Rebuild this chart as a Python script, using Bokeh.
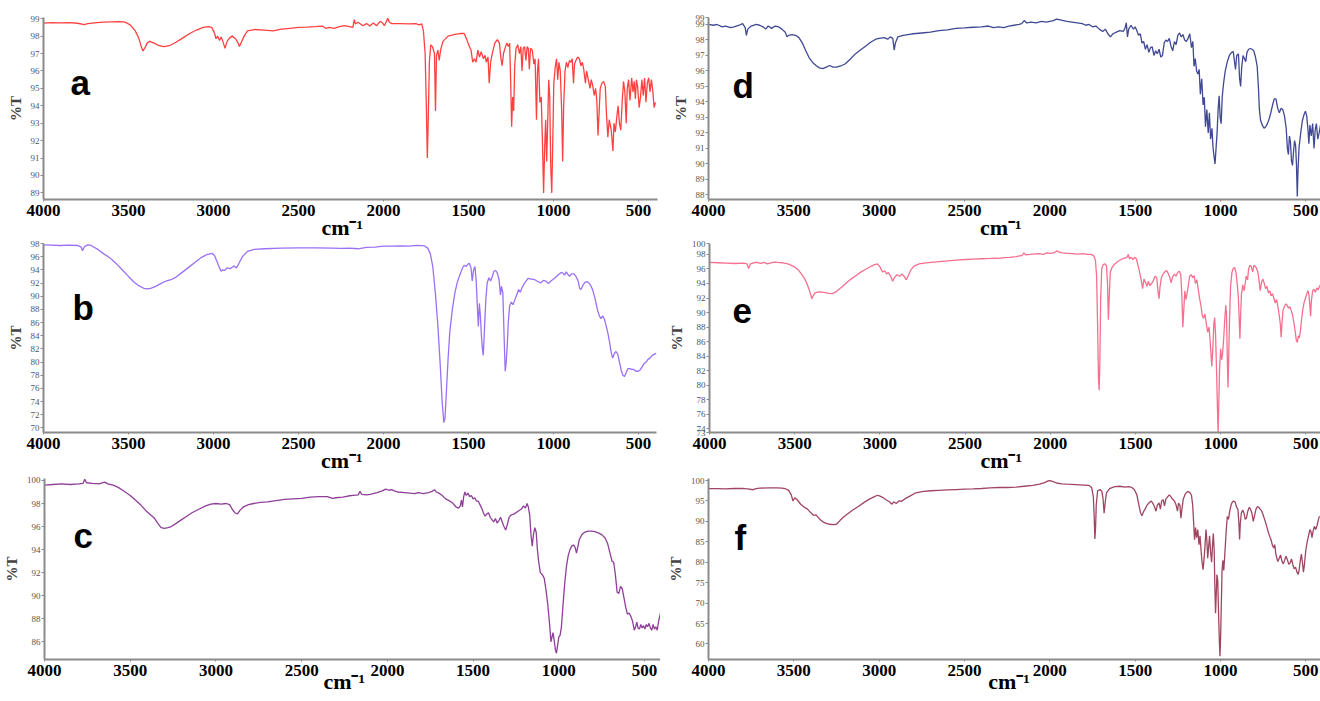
from bokeh.plotting import figure
from bokeh.layouts import column, row
from bokeh.models import Range1d, FixedTicker, Label
from bokeh.embed import file_html
from bokeh.resources import INLINE

# ---------------- data (wavenumber cm-1, %T) ----------------
a_wn = [4000,3950,3900,3850,3800,3760,3740,3700,3650,3600,3550,3520,3490,3460,3440,3425,3415,3405,3390,3375,3350,3320,3290,3260,3220,3180,3140,3100,3060,3030,3010,2995,2985,2975,2965,2955,2945,2932,2920,2905,2890,2870,2855,2848,2838,2820,2800,2760,2700,2650,2600,2550,2500,2450,2400,2360,2340,2320,2290,2260,2230,2200,2180,2172,2165,2150,2120,2100,2080,2060,2040,2020,2005,1995,1985,1975,1965,1950,1900,1850,1810,1790,1775,1765,1755,1748,1742,1736,1730,1722,1712,1700,1694,1688,1680,1672,1664,1650,1620,1580,1550,1525,1510,1495,1485,1475,1465,1455,1445,1435,1425,1412,1402,1395,1385,1378,1370,1360,1345,1330,1318,1310,1302,1294,1285,1275,1265,1258,1252,1246,1240,1234,1228,1220,1210,1200,1192,1185,1178,1170,1162,1155,1148,1142,1135,1125,1115,1108,1100,1094,1088,1080,1072,1065,1058,1052,1046,1040,1034,1028,1022,1016,1010,1004,998,990,982,975,968,960,952,946,940,932,924,915,906,898,890,882,876,868,858,848,838,830,822,812,805,795,785,778,770,760,752,745,738,732,725,715,705,695,688,680,672,660,650,644,636,628,620,612,604,596,588,580,572,566,558,550,540,532,525,518,512,505,496,488,480,472,464,456,448,440,432,424,416,408,400,392]
a_T = [98.75,98.78,98.76,98.78,98.74,98.66,98.72,98.76,98.8,98.82,98.83,98.8,98.65,98.3,97.9,97.4,97.15,97.3,97.6,97.7,97.6,97.45,97.4,97.45,97.65,97.9,98.15,98.35,98.5,98.55,98.5,98.2,97.85,98.0,97.75,97.95,97.7,97.3,97.7,97.9,98.0,97.85,97.6,97.4,97.6,98.0,98.3,98.38,98.35,98.3,98.4,98.45,98.5,98.52,98.55,98.58,98.45,98.5,98.45,98.55,98.6,98.55,98.5,98.95,98.7,98.8,98.6,98.72,98.58,98.75,98.6,98.85,98.75,98.6,98.8,99.02,98.8,98.72,98.72,98.7,98.72,98.65,98.7,98.3,97.0,94.0,91.0,93.5,96.5,97.5,97.4,97.0,93.7,96.9,97.2,96.6,97.2,97.7,98.0,98.1,98.15,98.15,97.8,97.4,97.2,96.5,96.7,96.5,97.2,96.8,97.1,96.7,96.9,96.5,96.8,95.3,96.5,97.0,97.6,97.8,97.6,96.8,96.3,97.0,97.3,97.6,97.4,97.6,95.5,92.8,94.5,93.7,96.3,97.3,97.5,97.0,97.4,96.0,97.3,97.4,96.6,97.4,97.3,96.1,97.3,97.2,96.4,96.7,93.2,96.0,96.7,94.2,94.5,92.0,89.0,91.5,93.2,90.8,93.0,95.5,94.5,90.5,89.0,92.0,95.3,96.2,96.7,95.5,96.5,96.0,93.8,90.8,94.0,96.0,96.5,96.2,96.6,96.5,96.7,95.3,96.4,96.6,96.8,96.7,96.3,96.5,96.1,95.3,96.0,95.5,95.0,95.5,95.2,94.6,95.0,94.3,92.3,93.5,95.0,95.3,95.4,95.1,93.5,92.2,93.2,92.6,91.4,93.0,92.5,93.3,94.0,93.0,92.6,94.2,95.4,94.8,93.0,95.0,95.5,94.3,95.6,94.8,95.4,94.4,95.5,95.1,93.9,94.5,95.5,94.6,95.6,94.2,95.3,95.6,94.8,95.5,94.9,93.9,94.2]

b_wn = [4000,3950,3900,3850,3800,3780,3770,3760,3740,3720,3700,3680,3650,3620,3600,3570,3540,3500,3470,3440,3410,3390,3370,3340,3310,3280,3250,3220,3190,3150,3110,3070,3040,3010,2995,2980,2965,2955,2945,2935,2920,2900,2880,2865,2850,2830,2800,2760,2700,2600,2500,2400,2300,2250,2200,2150,2100,2050,2000,1950,1900,1850,1800,1760,1740,1725,1710,1695,1680,1665,1655,1645,1638,1630,1620,1610,1595,1580,1565,1550,1535,1525,1515,1505,1495,1485,1478,1470,1462,1455,1448,1442,1436,1430,1424,1418,1413,1406,1398,1390,1380,1370,1360,1350,1340,1330,1320,1312,1306,1298,1290,1284,1278,1272,1266,1258,1248,1238,1228,1215,1205,1195,1185,1170,1150,1130,1110,1090,1075,1060,1045,1030,1015,1000,985,970,955,945,935,925,915,905,895,880,868,856,846,838,828,815,800,785,770,755,742,730,720,710,700,690,680,670,660,652,642,632,622,612,602,592,582,572,562,552,540,528,515,502,490,478,466,455,444,432,420,405,395]
b_T = [97.8,97.75,97.7,97.75,97.7,97.5,96.9,97.5,97.8,97.7,97.4,97.1,96.5,96.0,95.6,94.9,94.1,93.0,92.2,91.6,91.2,91.1,91.2,91.5,91.9,92.3,92.5,92.9,93.5,94.3,95.1,95.9,96.3,96.5,96.2,95.3,94.3,93.8,94.0,93.9,94.3,94.2,94.6,94.3,95.0,96.0,96.8,97.1,97.2,97.3,97.35,97.35,97.3,97.25,97.3,97.2,97.4,97.45,97.6,97.6,97.65,97.6,97.7,97.65,97.3,96.5,94.5,90.5,85.5,79.0,74.0,70.8,71.5,75.5,80.5,84.5,88.0,90.5,92.2,93.3,94.3,94.7,94.5,94.8,95.0,94.3,92.3,94.0,94.5,92.5,88.5,85.4,88.9,87.0,84.0,82.0,81.0,85.0,89.5,92.0,92.8,92.3,93.0,93.8,93.9,93.5,92.5,90.2,91.5,90.5,83.5,78.6,80.0,82.5,86.0,88.5,89.1,88.7,89.4,90.3,91.0,90.6,91.3,92.0,92.7,92.6,92.5,92.2,92.0,92.4,92.3,91.9,92.3,92.6,92.9,93.3,93.6,93.5,93.2,93.7,93.3,93.0,93.4,93.4,93.0,92.4,91.2,91.0,91.6,92.1,92.2,91.8,91.0,89.6,88.0,87.0,86.6,87.0,86.5,85.5,84.4,83.0,81.4,80.6,81.3,81.6,81.2,80.0,78.8,78.0,77.8,78.4,79.0,79.0,78.9,78.9,78.6,78.6,78.8,79.3,79.8,80.0,80.4,80.6,81.0,81.2,81.3]

c_wn = [4000,3950,3900,3850,3800,3775,3765,3755,3720,3680,3650,3630,3600,3570,3540,3500,3470,3440,3410,3380,3360,3340,3320,3300,3280,3260,3230,3200,3170,3140,3100,3060,3030,3000,2970,2940,2920,2905,2890,2875,2860,2840,2810,2780,2740,2700,2650,2600,2550,2500,2450,2400,2350,2320,2300,2260,2230,2200,2170,2160,2150,2120,2100,2060,2030,2010,1990,1975,1960,1940,1900,1870,1840,1820,1790,1760,1740,1725,1715,1700,1680,1660,1640,1620,1600,1585,1575,1568,1562,1555,1548,1540,1530,1520,1510,1500,1490,1480,1470,1460,1450,1440,1430,1420,1410,1400,1390,1380,1370,1360,1350,1340,1330,1320,1310,1300,1290,1280,1260,1240,1220,1205,1195,1185,1178,1170,1162,1155,1148,1140,1132,1125,1118,1108,1095,1085,1075,1065,1055,1046,1040,1034,1028,1020,1014,1008,1000,992,985,975,965,955,945,935,925,915,905,897,890,880,865,850,830,810,790,770,750,730,715,700,690,680,670,660,650,640,630,620,610,600,590,580,570,560,552,545,538,530,522,514,506,498,490,482,474,466,458,450,442,434,426,418,410,407]
c_T = [99.6,99.65,99.7,99.65,99.7,99.75,100.1,99.8,99.75,99.7,99.85,99.7,99.6,99.4,99.1,98.7,98.3,97.9,97.4,97.0,96.75,96.3,95.9,95.85,95.9,96.0,96.3,96.6,96.9,97.2,97.5,97.8,97.95,98.0,97.95,98.0,97.9,97.5,97.2,97.1,97.4,97.7,97.9,98.0,98.1,98.15,98.25,98.35,98.4,98.45,98.55,98.6,98.6,98.45,98.5,98.55,98.65,98.7,98.75,99.05,98.8,98.75,98.8,98.95,99.1,99.25,99.15,99.2,99.1,99.0,98.95,98.9,98.85,98.95,98.85,98.95,99.05,99.2,99.0,98.9,98.7,98.4,98.25,98.05,97.7,97.6,97.8,98.3,97.7,98.6,99.0,98.7,98.9,98.6,98.7,98.4,98.5,98.2,98.2,97.9,97.6,97.2,96.9,97.1,97.2,96.8,96.6,96.4,96.7,96.3,96.5,96.8,96.4,96.0,95.7,96.2,96.8,97.0,97.1,97.3,97.5,97.8,97.6,98.0,97.7,97.0,95.2,94.3,95.3,95.9,95.5,94.0,93.0,92.0,91.8,91.5,90.5,89.3,87.7,86.0,86.4,86.8,86.2,85.3,85.0,85.6,86.4,86.6,87.3,89.3,91.2,92.6,93.5,94.0,94.3,94.4,94.2,93.7,94.2,94.9,95.3,95.5,95.6,95.6,95.55,95.45,95.3,95.0,94.5,93.6,93.0,92.9,91.8,90.3,90.2,90.8,90.6,89.8,89.0,88.4,88.5,88.2,87.8,87.0,87.3,87.7,87.2,87.1,87.5,87.2,87.4,87.1,87.5,87.3,87.6,87.2,87.0,87.5,87.1,87.3,87.0,87.8,88.3,88.5]

d_wn = [4000,3970,3950,3920,3900,3870,3850,3820,3800,3785,3778,3770,3750,3720,3700,3680,3665,3650,3630,3610,3590,3570,3550,3540,3530,3510,3490,3470,3450,3430,3410,3390,3370,3350,3330,3310,3290,3270,3250,3220,3200,3170,3140,3110,3080,3050,3020,3000,2970,2950,2935,2920,2912,2905,2890,2860,2830,2800,2750,2700,2650,2600,2550,2500,2450,2400,2360,2330,2300,2270,2240,2210,2180,2165,2150,2135,2110,2080,2050,2020,2000,1980,1960,1940,1920,1900,1870,1840,1810,1790,1770,1750,1730,1710,1690,1675,1660,1645,1630,1610,1590,1570,1560,1552,1545,1538,1525,1510,1500,1490,1480,1470,1460,1450,1440,1430,1420,1410,1400,1390,1380,1370,1360,1350,1340,1330,1320,1310,1300,1290,1280,1270,1260,1250,1240,1230,1220,1210,1200,1190,1180,1170,1162,1155,1148,1140,1132,1125,1118,1110,1102,1095,1088,1080,1072,1065,1058,1050,1044,1038,1032,1026,1020,1014,1008,1002,996,990,982,972,960,948,935,925,918,912,905,895,888,882,876,868,860,852,845,835,825,815,805,795,785,778,772,765,755,745,735,725,715,705,695,685,675,665,655,645,635,625,615,608,602,596,590,584,578,572,566,560,555,550,546,540,530,520,510,502,495,488,482,476,468,460,452,445,438,430,422,414]
d_T = [99.0,98.95,99.0,98.85,98.9,98.8,98.85,98.95,99.05,98.8,98.3,98.7,98.9,99.0,98.95,98.85,98.7,98.9,98.75,98.9,98.85,98.7,98.5,98.2,98.3,98.35,98.3,98.15,97.8,97.3,96.85,96.55,96.35,96.2,96.15,96.25,96.35,96.25,96.25,96.35,96.45,96.75,97.1,97.35,97.6,97.85,98.05,98.1,98.15,98.05,98.2,98.1,97.35,97.8,98.2,98.3,98.35,98.4,98.45,98.5,98.6,98.65,98.75,98.78,98.82,98.85,98.9,98.8,98.85,98.8,98.9,98.95,99.0,99.05,99.25,99.1,99.15,99.1,99.2,99.15,99.2,99.25,99.35,99.3,99.25,99.2,99.15,99.1,99.05,98.95,99.0,98.85,98.9,98.7,98.55,98.7,98.4,98.2,98.4,98.5,98.6,98.55,98.75,99.1,98.2,98.7,98.95,98.7,98.85,98.6,98.3,98.4,97.8,97.9,97.4,97.7,97.2,97.5,97.55,97.0,97.3,97.1,97.4,96.9,97.0,97.8,98.0,97.9,98.1,97.6,97.3,97.9,97.7,98.3,98.45,98.2,98.35,98.0,97.9,98.1,98.4,97.5,97.9,96.3,96.8,96.0,95.8,96.1,94.5,95.5,93.8,94.3,92.4,93.5,92.0,93.3,91.6,92.3,91.1,90.5,90.0,91.0,92.0,93.5,94.4,93.0,92.6,94.3,95.2,96.0,96.6,97.0,97.2,97.25,96.6,96.1,97.0,97.1,95.5,95.0,96.2,97.0,96.8,96.6,97.2,97.4,97.45,97.4,97.3,96.9,96.3,95.0,93.5,92.8,92.5,92.3,92.4,92.6,92.9,93.3,93.8,94.2,94.2,93.6,93.3,93.6,93.5,93.1,92.3,91.0,90.6,91.8,91.4,90.2,89.9,90.8,91.5,91.2,90.0,87.9,89.5,91.0,92.0,92.8,93.2,93.4,93.1,92.3,91.3,92.5,91.8,92.6,91.0,92.2,92.6,91.6,92.0,92.5]

e_wn = [4000,3950,3900,3850,3800,3780,3770,3760,3740,3720,3700,3680,3660,3640,3620,3600,3570,3540,3510,3480,3460,3440,3425,3410,3400,3392,3380,3360,3340,3320,3300,3280,3260,3240,3220,3200,3170,3140,3110,3080,3050,3030,3015,3000,2985,2970,2960,2950,2935,2925,2915,2900,2885,2870,2855,2845,2835,2820,2800,2770,2740,2700,2650,2600,2550,2500,2450,2400,2350,2320,2300,2270,2240,2200,2180,2165,2155,2145,2120,2100,2070,2040,2020,2000,1980,1960,1948,1930,1900,1870,1840,1810,1780,1760,1745,1735,1728,1722,1717,1713,1709,1704,1698,1690,1678,1670,1664,1659,1654,1648,1638,1625,1605,1585,1565,1550,1542,1535,1525,1515,1505,1495,1485,1475,1465,1458,1450,1440,1432,1425,1415,1405,1395,1385,1375,1368,1362,1356,1348,1338,1328,1318,1308,1298,1290,1282,1272,1262,1252,1242,1234,1228,1222,1216,1210,1204,1198,1190,1182,1172,1164,1156,1148,1140,1132,1124,1116,1108,1100,1092,1084,1076,1068,1060,1052,1046,1040,1035,1030,1024,1019,1015,1011,1006,1000,994,988,982,976,970,966,961,957,953,948,942,934,926,918,910,902,896,891,887,883,878,870,862,856,850,842,836,828,820,812,805,798,790,782,775,768,760,752,744,736,728,720,712,704,696,688,680,672,664,656,650,645,640,634,626,618,610,602,594,586,578,570,562,556,550,544,538,532,526,518,510,502,494,488,482,476,472,468,460,452,444,436,428,420,414]
e_T = [96.9,96.85,96.8,96.75,96.8,96.7,96.05,96.7,96.85,96.9,96.75,96.9,96.7,96.85,96.95,96.9,96.85,96.7,96.4,95.9,95.3,94.6,93.8,92.8,91.9,92.3,92.7,92.85,92.8,92.75,92.65,92.6,92.8,93.2,93.6,94.0,94.6,95.1,95.6,96.0,96.4,96.6,96.7,96.3,95.6,95.7,95.3,95.5,94.9,94.3,94.8,95.2,95.0,95.3,94.9,94.5,95.0,95.8,96.4,96.7,96.8,96.9,97.0,97.1,97.2,97.3,97.35,97.4,97.45,97.5,97.45,97.55,97.6,97.7,97.8,97.85,98.2,97.95,98.0,98.05,98.1,98.0,98.2,98.15,98.2,98.5,98.3,98.2,98.15,98.1,98.05,98.1,98.0,98.0,97.8,97.2,95.0,88.0,81.0,79.3,83.0,92.0,96.0,96.6,96.7,96.4,94.0,89.0,92.0,95.5,96.2,96.6,97.0,97.3,97.5,97.6,98.0,97.4,97.6,97.3,97.6,97.4,96.5,95.5,94.3,93.3,94.6,94.1,93.6,94.3,93.7,94.0,94.4,95.0,94.8,93.0,91.9,93.5,94.8,95.3,95.6,95.8,95.4,94.8,94.1,94.9,95.3,95.0,95.5,95.7,95.2,92.5,88.0,90.5,93.0,91.8,92.5,93.7,95.0,95.2,94.8,95.1,94.0,94.5,93.3,92.0,91.0,89.6,89.2,89.8,88.4,87.3,88.0,85.5,82.6,85.0,88.4,89.3,87.0,82.0,77.0,73.5,77.5,82.5,85.0,83.5,84.5,86.5,89.0,91.0,90.0,84.0,79.7,83.5,89.0,93.5,95.5,96.1,96.2,95.5,93.8,92.0,89.0,86.4,89.5,92.5,93.8,93.0,94.0,95.0,94.5,96.0,96.5,96.3,95.6,96.5,96.4,96.1,95.6,94.5,93.0,94.2,94.6,94.0,93.3,93.6,92.7,93.0,92.3,92.6,92.0,91.3,91.8,90.8,89.6,88.5,86.6,88.5,90.3,90.8,91.2,91.0,90.6,90.8,90.3,89.7,88.6,87.3,86.2,85.9,86.8,86.5,87.5,88.8,90.4,91.4,92.0,92.6,93.0,92.5,90.8,89.5,91.5,93.0,93.2,92.8,93.4,93.1,93.6,93.8]

f_wn = [4000,3950,3900,3850,3800,3760,3740,3720,3700,3650,3600,3570,3550,3530,3515,3505,3495,3480,3460,3440,3420,3400,3385,3370,3350,3330,3310,3290,3270,3250,3230,3210,3180,3150,3120,3090,3060,3030,3010,2995,2980,2960,2940,2925,2915,2900,2885,2870,2850,2820,2790,2750,2700,2650,2600,2550,2500,2450,2400,2350,2300,2250,2200,2150,2100,2060,2030,2010,2000,1985,1960,1930,1900,1850,1800,1770,1755,1745,1740,1736,1732,1728,1720,1705,1695,1688,1682,1676,1668,1650,1620,1590,1560,1540,1520,1505,1490,1478,1468,1460,1452,1442,1430,1418,1405,1395,1385,1378,1370,1360,1352,1345,1336,1328,1320,1310,1300,1290,1280,1270,1260,1252,1246,1238,1232,1226,1218,1205,1192,1180,1170,1163,1157,1152,1146,1140,1133,1126,1120,1114,1108,1102,1096,1090,1085,1080,1075,1070,1064,1058,1052,1047,1042,1037,1033,1029,1025,1021,1016,1011,1006,1003,999,995,991,986,981,976,971,966,960,953,946,938,930,922,914,906,898,892,888,884,878,870,862,855,848,840,832,824,816,808,800,792,784,776,768,760,752,744,736,728,720,712,704,696,688,682,676,670,664,656,648,640,632,624,616,608,600,592,584,576,568,560,552,544,538,532,526,520,514,508,500,492,484,476,470,464,458,450,442,434,426,420]
f_T = [98.0,98.0,97.95,98.05,98.1,97.9,97.75,98.0,98.15,98.2,98.2,98.15,98.0,97.6,96.5,95.0,95.8,95.3,94.2,93.5,93.0,92.1,91.5,91.6,90.6,89.9,89.5,89.3,89.2,89.3,90.2,91.0,92.0,92.9,93.7,94.6,95.4,96.0,96.4,96.2,95.9,95.3,94.8,94.2,94.8,94.4,95.0,94.9,95.5,96.2,96.9,97.3,97.5,97.6,97.7,97.8,97.9,97.95,98.05,98.2,98.3,98.3,98.4,98.6,98.8,99.1,99.5,99.9,100.0,99.8,99.4,99.2,99.1,99.0,98.9,98.8,98.3,96.0,91.0,85.7,88.5,94.0,97.5,97.8,97.3,95.5,92.0,94.5,97.0,98.0,98.5,98.6,98.4,98.5,98.3,97.8,96.5,94.0,92.0,91.4,92.3,93.0,94.0,94.6,95.0,94.3,93.4,92.5,94.0,94.5,93.0,95.0,95.3,93.8,95.5,96.0,96.5,96.0,95.4,95.0,94.0,92.5,94.5,94.0,90.8,93.0,95.5,96.8,97.3,97.1,96.4,94.0,89.5,85.5,88.5,86.0,88.0,84.3,86.5,83.0,80.0,78.2,81.0,84.5,88.0,85.5,81.0,83.5,86.5,82.5,80.0,84.0,87.0,83.0,74.0,67.5,72.0,77.0,75.5,67.0,60.0,57.0,62.0,70.0,78.0,80.5,78.0,81.0,84.5,88.0,91.2,90.5,92.5,94.0,94.8,95.0,94.7,93.5,93.0,89.5,85.6,89.5,92.0,92.8,92.0,90.5,90.8,92.5,93.4,93.0,92.0,90.0,91.5,93.0,93.6,93.5,93.0,92.7,91.8,90.8,89.8,88.6,87.4,86.4,85.5,84.2,83.5,84.3,82.2,81.0,80.2,81.0,81.8,80.3,79.6,80.5,81.5,80.6,79.5,79.8,80.8,79.4,78.4,78.8,77.6,77.0,78.5,80.5,82.0,80.0,77.6,79.5,83.0,85.0,86.5,88.0,87.5,86.0,87.5,88.8,88.0,89.0,90.5,91.3]

# tick labels
x_ticks = [4000, 3500, 3000, 2500, 2000, 1500, 1000, 500]
a_yticks = [89, 90, 91, 92, 93, 94, 95, 96, 97, 98, 99]
b_yticks = [70, 72, 74, 76, 78, 80, 82, 84, 86, 88, 90, 92, 94, 96, 98]
c_yticks = [86, 88, 90, 92, 94, 96, 98, 100]
d_yticks = [88, 89, 90, 91, 92, 93, 94, 95, 96, 97, 98, 99, 99.45]
e_yticks = [73.5, 74, 76, 78, 80, 82, 84, 86, 88, 90, 92, 94, 96, 98, 99.5]
f_yticks = [60, 65, 70, 75, 80, 85, 90, 95, 100]

XFONT = "Liberation Serif"
YFONT = "Liberation Sans Narrow"
NB = "\u00a0"


def panel(wn, T, color, x_end, y0, y1, yticks, overrides, letter,
          width, height, left, right, top, bottom, letter_px,
          pad, standoff, transparent):
    p = figure(width=width, height=height, output_backend="svg",
               toolbar_location=None, x_range=Range1d(4000, x_end),
               y_range=Range1d(y0, y1), min_border_left=left,
               min_border_right=right, min_border_top=top,
               min_border_bottom=bottom)
    p.outline_line_color = None
    p.xgrid.visible = False
    p.ygrid.visible = False
    p.background_fill_color = "white"
    p.border_fill_color = "white"
    if transparent:
        p.border_fill_alpha = 0.0
    p.line(wn, T, line_color=color, line_width=1.3)

    xa = p.xaxis[0]
    xa.ticker = FixedTicker(ticks=x_ticks)
    xa.major_label_text_font = XFONT
    xa.major_label_text_font_style = "bold"
    xa.major_label_text_font_size = "17px"
    xa.major_label_text_color = "black"
    xa.axis_line_color = "#8a8a8a"
    xa.axis_line_width = 2
    xa.major_tick_line_color = "#8a8a8a"
    xa.major_tick_out = 2
    xa.major_tick_in = 0
    xa.minor_tick_line_color = None
    xa.major_label_standoff = 3
    xa.axis_label = "cm\u207b\u00b9" + NB * pad
    xa.axis_label_text_font = XFONT
    xa.axis_label_text_font_style = "bold"
    xa.axis_label_text_font_size = "22px"
    xa.axis_label_text_color = "black"
    xa.axis_label_standoff = standoff

    ya = p.yaxis[0]
    ya.ticker = FixedTicker(ticks=yticks)
    ya.major_label_overrides = overrides
    ya.major_label_text_font = YFONT
    ya.major_label_text_font_size = "9px"
    ya.major_label_text_color = "#555555"
    ya.axis_line_color = "#8a8a8a"
    ya.axis_line_width = 2
    ya.major_tick_line_color = "#8a8a8a"
    ya.major_tick_out = 3
    ya.major_tick_in = 0
    ya.minor_tick_line_color = None
    ya.major_label_standoff = 1
    ya.axis_label = "%T"
    ya.axis_label_text_font = XFONT
    ya.axis_label_text_font_style = "bold"
    ya.axis_label_text_font_size = "15px"
    ya.axis_label_standoff = 4

    fw = width - left - right
    fh = height - top - bottom
    sx = (4000 - x_end) / fw
    sy = (y1 - y0) / fh
    lx = 4000 - letter_px[0] * sx
    ly = y1 - letter_px[1] * sy
    p.add_layout(Label(x=lx, y=ly, text=letter, text_font="Liberation Sans",
                       text_font_style="bold", text_font_size="35px",
                       text_baseline="alphabetic", text_align="left",
                       text_color="black"))
    return p


# row 1 (page y 0..250)
pa = panel(a_wn, a_T, "#ff4040", 388, 88.62, 99.07, a_yticks, {}, "a",
           660, 250, 43, 3, 17, 49, (27, 66), 3, -4, False)
pd = panel(d_wn, d_T, "#414894", 414, 87.7, 99.45, d_yticks, {99.45: "99"}, "d",
           660, 250, 48, 0, 14, 51, (24, 69), 5, -4, False)
# row 2 (page y 235..484), overlapping row 1 by 15 px
pb = panel(b_wn, b_T, "#9b70f5", 394, 69.3, 98.0, b_yticks, {}, "b",
           660, 249, 43, 4, 8, 49, (29, 65), 3, -4, True)
pe = panel(e_wn, e_T, "#f5708f", 414, 73.5, 99.5, e_yticks,
           {73.5: "73", 99.5: "100"}, "e",
           660, 249, 49, 0, 8, 52, (23, 67), 5, -4, True)
# row 3 (page y 470..701), overlapping row 2 by 14 px
pc = panel(c_wn, c_T, "#8e3f98", 407, 84.46, 100.17, c_yticks, {}, "c",
           660, 231, 43, 0, 8, 42, (29, 57), 3, -10, True)
pf = panel(f_wn, f_T, "#a04560", 414, 56.2, 100.5, f_yticks, {}, "f",
           660, 231, 48, 0, 5, 42, (26, 60), 2, -10, True)

r1 = row(pa, pd)
r2 = row(pb, pe, margin=(-15, 0, 0, 0))
r3 = row(pc, pf, margin=(-14, 0, 0, 0))
layout = column(r1, r2, r3)
open("out.html", "w").write(file_html(layout, INLINE))
